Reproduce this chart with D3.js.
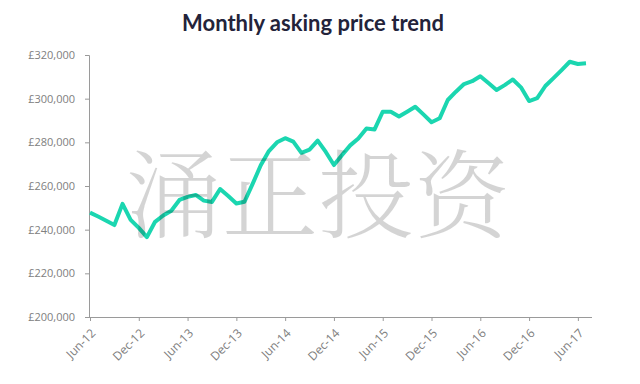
<!DOCTYPE html>
<html>
<head>
<meta charset="utf-8">
<script src="https://cdn.jsdelivr.net/npm/d3@7"></script>
<style>
  body { margin: 0; background: #fff; }
  svg { display: block; }
  .axis path, .axis line { stroke: #9a9a9a; }
  .axis text { fill: #808080; font-family: "Open Sans", sans-serif; font-size: 11px; }
  .x.axis text { font-size: 12px; }
</style>
</head>
<body>
<svg id="chart" width="640" height="384"></svg>
<script>
// monthly asking prices, Jun-12 .. Jul-17
var months = ["Jun-12","Jul-12","Aug-12","Sep-12","Oct-12","Nov-12","Dec-12",
  "Jan-13","Feb-13","Mar-13","Apr-13","May-13","Jun-13","Jul-13","Aug-13","Sep-13","Oct-13","Nov-13","Dec-13",
  "Jan-14","Feb-14","Mar-14","Apr-14","May-14","Jun-14","Jul-14","Aug-14","Sep-14","Oct-14","Nov-14","Dec-14",
  "Jan-15","Feb-15","Mar-15","Apr-15","May-15","Jun-15","Jul-15","Aug-15","Sep-15","Oct-15","Nov-15","Dec-15",
  "Jan-16","Feb-16","Mar-16","Apr-16","May-16","Jun-16","Jul-16","Aug-16","Sep-16","Oct-16","Nov-16","Dec-16",
  "Jan-17","Feb-17","Mar-17","Apr-17","May-17","Jun-17","Jul-17"];
var prices = [247800,246000,244100,242100,251800,244500,240800,
  236600,243600,246500,248700,253600,255000,255900,253300,252700,258600,255400,252000,
  252800,261000,269500,276000,280000,281900,280300,275200,276700,280800,275600,269600,
  274200,278600,281800,286300,285900,294000,294000,291800,294000,296300,292800,289200,
  291000,299400,303200,306700,308000,310300,307200,304000,306200,308800,305200,298900,
  300200,305800,309400,313100,316900,315900,316200];
var tickMonths = ["Jun-12","Dec-12","Jun-13","Dec-13","Jun-14","Dec-14","Jun-15","Dec-15","Jun-16","Dec-16","Jun-17"];
var yTicks = [200000,220000,240000,260000,280000,300000,320000];

var svg = d3.select("#chart");

var x = d3.scaleLinear().domain([0, months.length - 1]).range([90, 586]);
var y = d3.scaleLinear().domain([200000, 320000]).range([317, 55]);

svg.append("text")
  .attr("x", 313)
  .attr("y", 31)
  .attr("text-anchor", "middle")
  .attr("font-family", "Lato, 'Open Sans', sans-serif")
  .attr("font-weight", 700)
  .attr("font-size", 22)
  .attr("fill", "#23233a")
  .text("Monthly asking price trend");

// x axis
var xAxis = svg.append("g")
  .attr("class", "x axis")
  .attr("transform", "translate(0," + y(200000) + ")")
  .call(d3.axisBottom(x)
    .tickValues(tickMonths.map(function(m) { return months.indexOf(m); }))
    .tickFormat(function(i) { return months[i]; })
    .tickSizeOuter(0)
    .tickSize(4));
xAxis.select(".domain").attr("d", "M89,0.5H592");
xAxis.selectAll("text")
  .attr("text-anchor", "end")
  .attr("x", 0)
  .attr("y", 0)
  .attr("dy", "0.35em")
  .attr("transform", "translate(3,14) rotate(-45)");

// y axis
svg.append("g")
  .attr("class", "y axis")
  .attr("transform", "translate(89,0)")
  .call(d3.axisLeft(y)
    .tickValues(yTicks)
    .tickFormat(function(d) { return "£" + d3.format(",")(d); })
    .tickSizeOuter(0)
    .tickSize(4)
    .tickPadding(10));

// line
var line = d3.line()
  .x(function(d, i) { return x(i); })
  .y(function(d) { return y(d); });

svg.append("path")
  .datum(prices)
  .attr("fill", "none")
  .attr("stroke", "#1bd6b0")
  .attr("stroke-width", 4)
  .attr("stroke-linejoin", "round")
  .attr("d", line);

// watermark
svg.append("text")
  .attr("x", 318)
  .attr("y", 230)
  .attr("text-anchor", "middle")
  .attr("font-family", "'Noto Serif CJK SC', 'Noto Sans CJK SC', sans-serif")
  .attr("font-size", 96)
  .attr("font-weight", 300)
  .attr("fill", "#000")
  .attr("fill-opacity", 0.17)
  .text("涌正投资");
</script>
</body>
</html>
